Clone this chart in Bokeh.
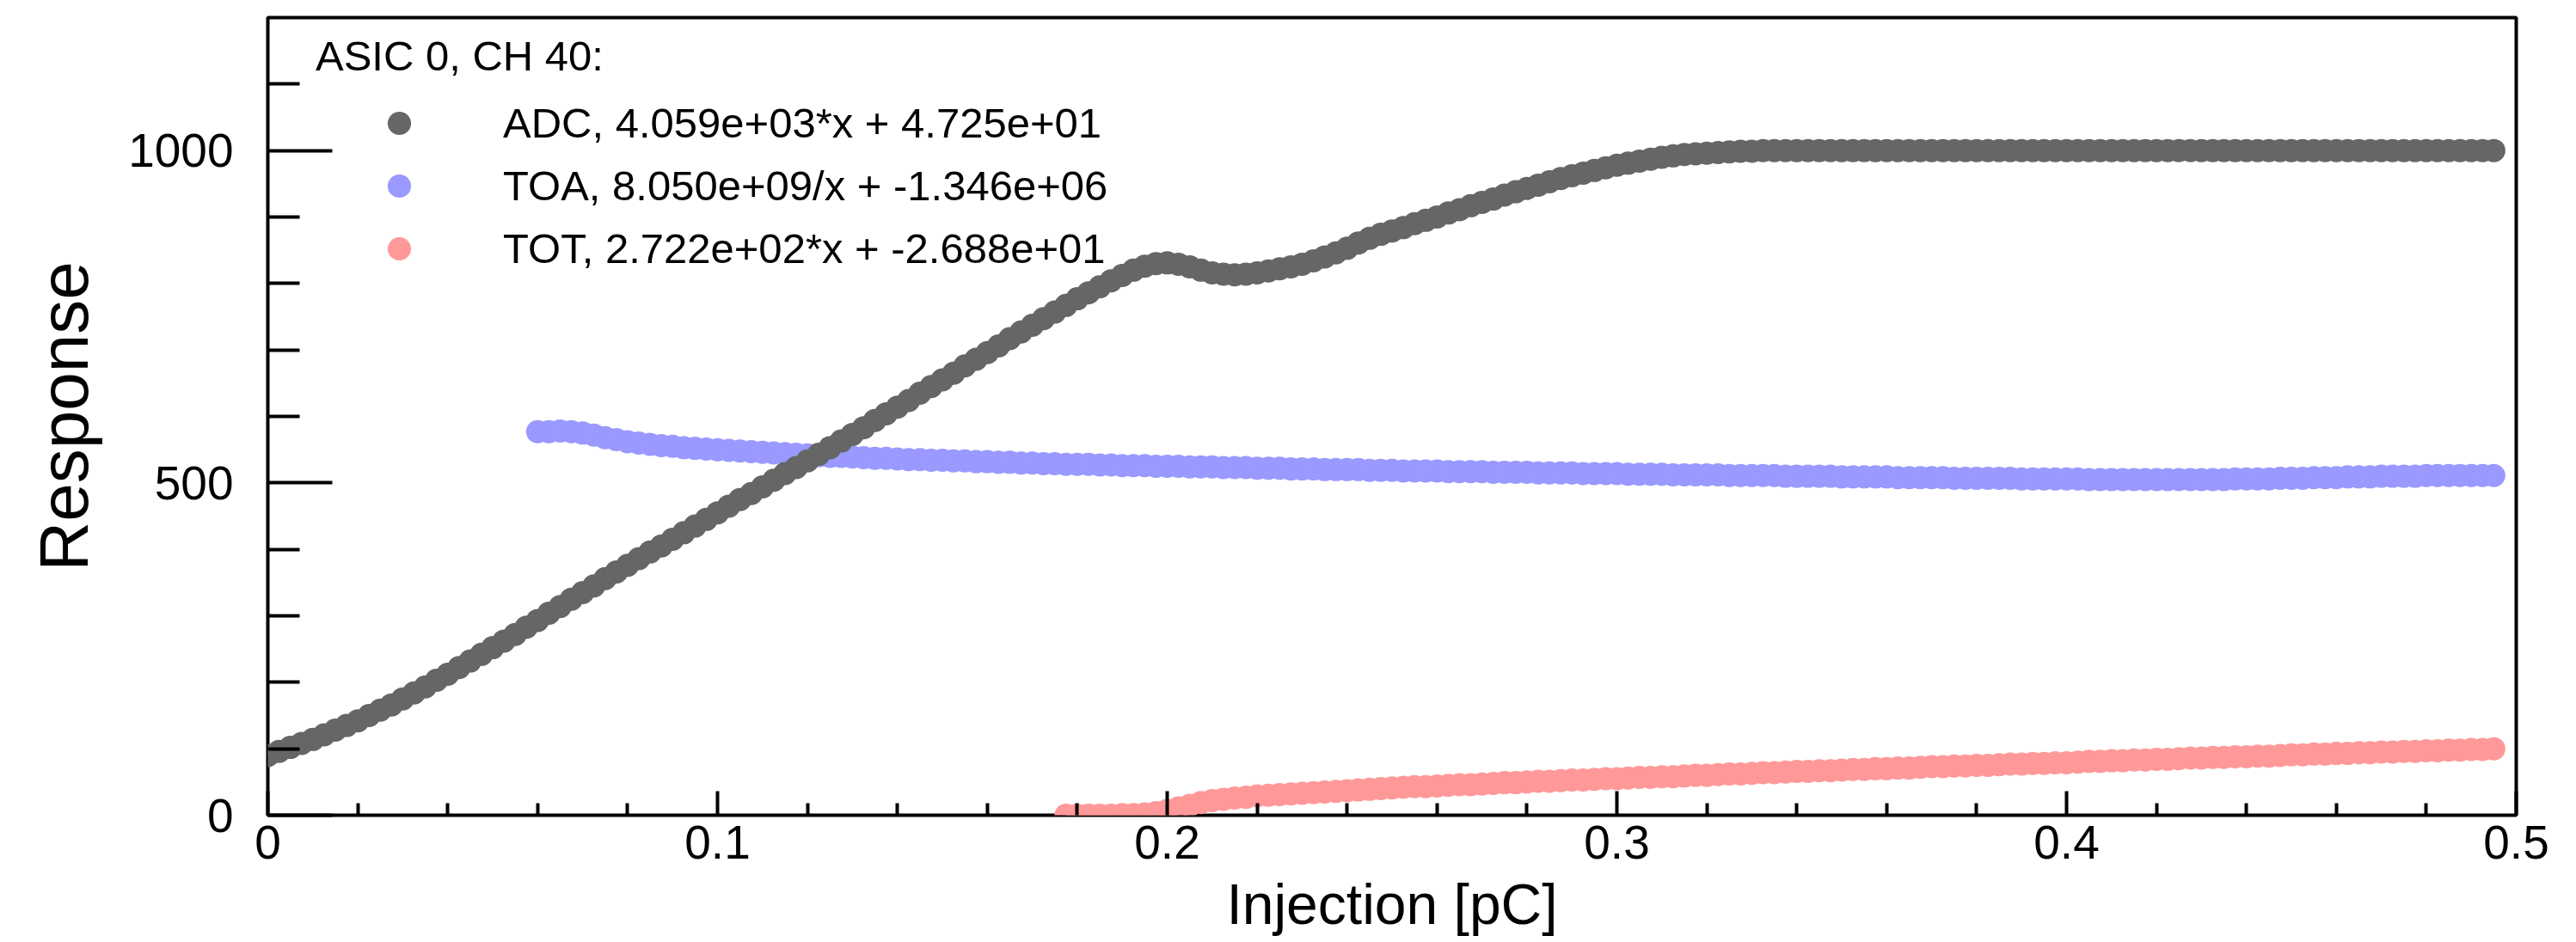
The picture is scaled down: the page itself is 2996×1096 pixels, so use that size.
from bokeh.plotting import figure
from bokeh.models import (FixedTicker, CustomJSTickFormatter, Legend, LegendItem,
                          Range1d, ColumnDataSource)
from bokeh.embed import file_html
from bokeh.resources import INLINE

# ---------------- data ----------------
# injection grid [pC]
X = [
    0.0000, 0.0025, 0.0050, 0.0075, 0.0100, 0.0125, 0.0150, 0.0175,
    0.0200, 0.0225, 0.0250, 0.0275, 0.0300, 0.0325, 0.0350, 0.0375,
    0.0400, 0.0425, 0.0450, 0.0475, 0.0500, 0.0525, 0.0550, 0.0575,
    0.0600, 0.0625, 0.0650, 0.0675, 0.0700, 0.0725, 0.0750, 0.0775,
    0.0800, 0.0825, 0.0850, 0.0875, 0.0900, 0.0925, 0.0950, 0.0975,
    0.1000, 0.1025, 0.1050, 0.1075, 0.1100, 0.1125, 0.1150, 0.1175,
    0.1200, 0.1225, 0.1250, 0.1275, 0.1300, 0.1325, 0.1350, 0.1375,
    0.1400, 0.1425, 0.1450, 0.1475, 0.1500, 0.1525, 0.1550, 0.1575,
    0.1600, 0.1625, 0.1650, 0.1675, 0.1700, 0.1725, 0.1750, 0.1775,
    0.1800, 0.1825, 0.1850, 0.1875, 0.1900, 0.1925, 0.1950, 0.1975,
    0.2000, 0.2025, 0.2050, 0.2075, 0.2100, 0.2125, 0.2150, 0.2175,
    0.2200, 0.2225, 0.2250, 0.2275, 0.2300, 0.2325, 0.2350, 0.2375,
    0.2400, 0.2425, 0.2450, 0.2475, 0.2500, 0.2525, 0.2550, 0.2575,
    0.2600, 0.2625, 0.2650, 0.2675, 0.2700, 0.2725, 0.2750, 0.2775,
    0.2800, 0.2825, 0.2850, 0.2875, 0.2900, 0.2925, 0.2950, 0.2975,
    0.3000, 0.3025, 0.3050, 0.3075, 0.3100, 0.3125, 0.3150, 0.3175,
    0.3200, 0.3225, 0.3250, 0.3275, 0.3300, 0.3325, 0.3350, 0.3375,
    0.3400, 0.3425, 0.3450, 0.3475, 0.3500, 0.3525, 0.3550, 0.3575,
    0.3600, 0.3625, 0.3650, 0.3675, 0.3700, 0.3725, 0.3750, 0.3775,
    0.3800, 0.3825, 0.3850, 0.3875, 0.3900, 0.3925, 0.3950, 0.3975,
    0.4000, 0.4025, 0.4050, 0.4075, 0.4100, 0.4125, 0.4150, 0.4175,
    0.4200, 0.4225, 0.4250, 0.4275, 0.4300, 0.4325, 0.4350, 0.4375,
    0.4400, 0.4425, 0.4450, 0.4475, 0.4500, 0.4525, 0.4550, 0.4575,
    0.4600, 0.4625, 0.4650, 0.4675, 0.4700, 0.4725, 0.4750, 0.4775,
    0.4800, 0.4825, 0.4850, 0.4875, 0.4900, 0.4925, 0.4950,
]

ADC = [
    90, 96, 102, 108, 114, 121, 128, 135,
    142, 150, 158, 166, 175, 184, 193, 203,
    212, 222, 232, 242, 252, 262, 272, 283,
    293, 304, 314, 325, 335, 345, 356, 366,
    376, 386, 396, 405, 415, 425, 435, 445,
    455, 465, 475, 484, 494, 504, 514, 523,
    533, 543, 553, 563, 573, 583, 594, 604,
    614, 624, 635, 645, 655, 665, 676, 686,
    696, 706, 717, 727, 737, 747, 757, 767,
    777, 786, 795, 804, 812, 820, 826, 830,
    831, 829, 825, 820, 816, 814, 813, 814,
    816, 819, 822, 825, 829, 834, 840, 846,
    853, 861, 868, 874, 879, 884, 890, 895,
    900, 906, 911, 917, 922, 927, 933, 938,
    943, 948, 953, 958, 962, 966, 970, 974,
    978, 981, 984, 987, 990, 992, 994, 995,
    996, 997, 998, 999, 999, 1000, 1000, 1000,
    1000, 1000, 1000, 1000, 1000, 1000, 1000, 1000,
    1000, 1000, 1000, 1000, 1000, 1000, 1000, 1000,
    1000, 1000, 1000, 1000, 1000, 1000, 1000, 1000,
    1000, 1000, 1000, 1000, 1000, 1000, 1000, 1000,
    1000, 1000, 1000, 1000, 1000, 1000, 1000, 1000,
    1000, 1000, 1000, 1000, 1000, 1000, 1000, 1000,
    1000, 1000, 1000, 1000, 1000, 1000, 1000, 1000,
    1000, 1000, 1000, 1000, 1000, 1000, 1000,
]

TOA_START = 0.0600
TOA = [
    577, 577, 578, 577, 575, 572, 568, 565,
    562, 560, 558, 556, 555, 553, 552, 551,
    550, 549, 548, 547, 546, 545, 544, 543,
    542, 541, 540, 540, 539, 538, 537, 537,
    536, 535, 535, 534, 534, 533, 533, 532,
    532, 531, 531, 530, 530, 529, 529, 528,
    528, 528, 527, 527, 526, 526, 526, 525,
    525, 525, 524, 524, 524, 523, 523, 523,
    522, 522, 522, 521, 521, 521, 520, 520,
    520, 520, 519, 519, 519, 518, 518, 518,
    518, 517, 517, 517, 517, 516, 516, 516,
    516, 515, 515, 515, 515, 514, 514, 514,
    514, 513, 513, 513, 513, 512, 512, 512,
    512, 512, 511, 511, 511, 511, 511, 510,
    510, 510, 510, 510, 509, 509, 509, 509,
    509, 508, 508, 508, 508, 508, 507, 507,
    507, 507, 507, 507, 506, 506, 506, 506,
    506, 506, 505, 505, 505, 505, 505, 505,
    505, 505, 505, 505, 505, 505, 505, 506,
    506, 506, 506, 507, 507, 507, 508, 508,
    508, 509, 509, 509, 510, 510, 510, 510,
    511, 511, 511, 511, 511, 511, 511,
]

TOT_START = 0.1775
TOT = [
    0,
    0, 0, 0, 0, 1, 1, 2, 4,
    7, 11, 15, 19, 22, 24, 26, 27,
    29, 30, 31, 32, 33, 34, 35, 36,
    37, 38, 39, 40, 41, 42, 43, 43,
    44, 45, 46, 46, 47, 48, 49, 49,
    50, 51, 51, 52, 53, 53, 54, 55,
    55, 56, 57, 57, 58, 58, 59, 60,
    60, 61, 62, 62, 63, 64, 64, 65,
    66, 66, 67, 67, 68, 69, 69, 70,
    70, 71, 71, 72, 73, 73, 74, 74,
    75, 75, 76, 77, 77, 78, 78, 79,
    79, 80, 81, 81, 82, 82, 83, 83,
    84, 84, 85, 86, 86, 87, 87, 88,
    88, 89, 89, 90, 91, 91, 92, 92,
    93, 93, 94, 94, 95, 95, 96, 96,
    97, 97, 98, 98, 99, 99, 100,
]

SERIES_LABELS = [
    "ADC, 4.059e+03*x + 4.725e+01",
    "TOA, 8.050e+09/x + -1.346e+06",
    "TOT, 2.722e+02*x + -2.688e+01",
]
LEGEND_TITLE = "ASIC 0, CH 40:"
X_TITLE = "Injection [pC]"
Y_TITLE = "Response"
X_TICKS = [0, 0.1, 0.2, 0.3, 0.4, 0.5]
X_MINOR = [0.02, 0.04, 0.06, 0.08, 0.12, 0.14, 0.16, 0.18, 0.22, 0.24, 0.26,
           0.28, 0.32, 0.34, 0.36, 0.38, 0.42, 0.44, 0.46, 0.48]
Y_TICKS = [0, 500, 1000]
Y_MINOR = [100, 200, 300, 400, 600, 700, 800, 900, 1100]

# ---------------- figure ----------------
FONT = "Liberation Sans"
i_toa = X.index(TOA_START)
i_tot = X.index(TOT_START)
src_adc = ColumnDataSource(dict(x=X[:len(ADC)], y=ADC))
src_toa = ColumnDataSource(dict(x=X[i_toa:i_toa + len(TOA)], y=TOA))
src_tot = ColumnDataSource(dict(x=X[i_tot:i_tot + len(TOT)], y=TOT))

p = figure(width=2996, height=1096, output_backend="svg", toolbar_location=None,
           x_range=Range1d(0, 0.5), y_range=Range1d(0, 1200),
           min_border_left=311, min_border_right=70,
           min_border_top=20, min_border_bottom=148)
p.xgrid.visible = False
p.ygrid.visible = False
p.outline_line_color = "black"
p.outline_line_width = 4
p.background_fill_color = "white"
p.border_fill_color = "white"

r_toa = p.scatter("x", "y", source=src_toa, size=27, marker="circle",
                  fill_color="#9999ff", line_color=None)
r_tot = p.scatter("x", "y", source=src_tot, size=27, marker="circle",
                  fill_color="#ff9999", line_color=None)
r_adc = p.scatter("x", "y", source=src_adc, size=27, marker="circle",
                  fill_color="#666666", line_color=None)

fmt = CustomJSTickFormatter(code="return String(tick)")
xa = p.xaxis[0]
ya = p.yaxis[0]
xa.ticker = FixedTicker(ticks=X_TICKS, minor_ticks=X_MINOR)
ya.ticker = FixedTicker(ticks=Y_TICKS, minor_ticks=Y_MINOR)
for ax in (xa, ya):
    ax.formatter = fmt
    ax.axis_line_color = None
    ax.major_tick_out = 0
    ax.minor_tick_out = 0
    ax.major_tick_line_width = 4
    ax.minor_tick_line_width = 4
    ax.major_tick_line_color = "black"
    ax.minor_tick_line_color = "black"
    ax.major_label_text_font = FONT
    ax.major_label_text_font_size = "55px"
    ax.major_label_text_color = "black"
    ax.axis_label_text_font = FONT
    ax.axis_label_text_font_style = "normal"
    ax.axis_label_text_color = "black"

xa.major_tick_in = 28
xa.minor_tick_in = 14
xa.major_label_standoff = 12
xa.axis_label = X_TITLE
xa.axis_label_text_font_size = "66px"
xa.axis_label_standoff = 13

ya.major_tick_in = 75
ya.minor_tick_in = 37
ya.major_label_standoff = 40
ya.axis_label = Y_TITLE
ya.axis_label_text_font_size = "80px"
ya.axis_label_standoff = 27

legend = Legend(
    items=[LegendItem(label=SERIES_LABELS[0], renderers=[r_adc]),
           LegendItem(label=SERIES_LABELS[1], renderers=[r_toa]),
           LegendItem(label=SERIES_LABELS[2], renderers=[r_tot])],
    title=LEGEND_TITLE, location=(56, 625),
)
legend.title_text_font = FONT
legend.title_text_font_size = "49px"
legend.title_text_font_style = "normal"
legend.title_text_color = "black"
legend.title_standoff = 16
legend.label_text_font = FONT
legend.label_text_font_size = "49px"
legend.label_text_color = "black"
legend.glyph_width = 194
legend.glyph_height = 68
legend.label_standoff = 24
legend.spacing = 5
legend.padding = 10
legend.margin = 0
legend.border_line_color = None
legend.background_fill_alpha = 0
p.add_layout(legend)

open("out.html", "w").write(file_html(p, INLINE))
